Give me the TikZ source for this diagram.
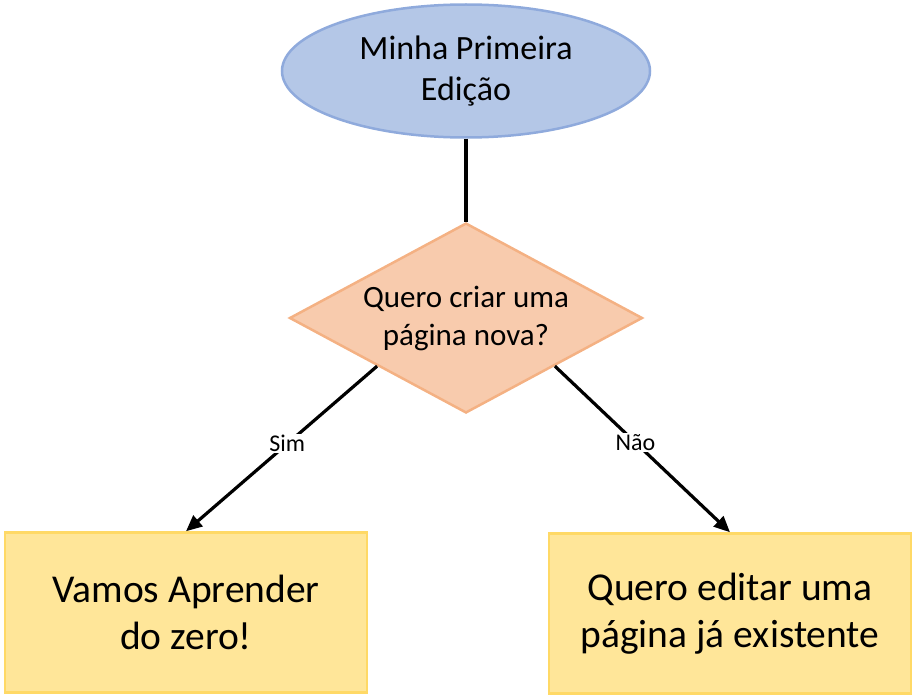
\documentclass[tikz,border=0pt]{standalone}
\usepackage{fontspec}
\setmainfont{Carlito}
\usetikzlibrary{positioning}
\usetikzlibrary{arrows.meta}
\usetikzlibrary{shapes.geometric}

\definecolor{azulfundo}{HTML}{B4C7E7}
\definecolor{azulborda}{HTML}{8FAADC}
\definecolor{laranjafundo}{HTML}{F8CBAD}
\definecolor{laranjaborda}{HTML}{F4B183}
\definecolor{amarelofundo}{HTML}{FFE699}
\definecolor{amareloborda}{HTML}{FFD966}

\begin{document}
\begin{tikzpicture}[x=1pt, y=-1pt,
    inicio/.style={ellipse, draw=azulborda, fill=azulfundo, line width=2.5pt, minimum width=368pt, minimum height=133pt, inner sep=0pt, align=center, font=\fontsize{34}{41}\selectfont},
    decisao/.style={diamond, draw=laranjaborda, fill=laranjafundo, line width=2.5pt, aspect=1.86, minimum width=353pt, minimum height=190pt, inner sep=0pt, align=center, font=\fontsize{31}{38}\selectfont},
    caixa/.style={rectangle, draw=amareloborda, fill=amarelofundo, line width=2.5pt, minimum width=362pt, minimum height=160pt, align=center, font=\fontsize{39.5}{47}\selectfont},
    seta/.style={-{Triangle[length=16pt,width=14pt]}, line width=3.2pt},
    rotulo/.style={fill=white, inner sep=1pt, font=\fontsize{24}{28}\selectfont}
]
\useasboundingbox (0,0) rectangle (916,698);

% Nos
\node[inicio] (titulo) at (466,71) {Minha Primeira\\Edição};
\node[decisao, below=83pt of titulo] (pergunta) {Quero criar uma\\página nova?};
\node[caixa, below=117pt of pergunta, xshift=-280pt] (aprender) {Vamos Aprender\\do zero!};
\node[caixa, below=118pt of pergunta, xshift=264pt] (editar) {Quero editar uma\\página já existente};

% Ligacoes
\draw[line width=3.2pt] (titulo) -- (pergunta);
\draw[seta] (pergunta.south west) -- (aprender.north) node[rotulo, pos=0.47] {Sim};
\draw[seta] (pergunta.south east) -- (editar.north) node[rotulo, pos=0.46] {Não};

\end{tikzpicture}
\end{document}
